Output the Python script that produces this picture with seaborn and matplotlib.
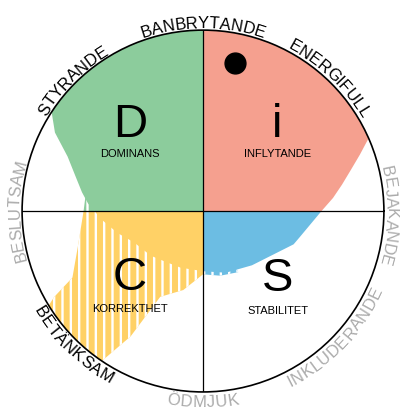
#!/usr/bin/env python3
"""DISC-profil: cirkeldiagram med fyra kvadranter (D, i, S, C)."""

import numpy as np
import matplotlib
matplotlib.use("Agg")
import matplotlib.pyplot as plt
import seaborn as sns
from matplotlib import font_manager
from matplotlib.ft2font import FT2Font

# Profil (heldragen) - vinkel i grader, räckvidd 0..1 (över 1 = utanför kanten)
profile_deg = [0, 6, 11, 16, 20, 24, 45, 70, 90, 110, 130, 147, 152, 158, 165, 171, 176, 180,
               184, 194, 204, 220, 235, 248, 270, 290, 312, 340, 345, 360]
profile_r = [0.65, 0.72, 0.78, 0.85, 0.92, 1.0, 1.15, 1.15, 1.15, 1.15, 1.15, 1.0, 0.93, 0.81,
             0.73, 0.68, 0.64, 0.60, 0.57, 0.49, 0.42, 0.38, 0.345, 0.335, 0.33, 0.36, 0.40,
             0.53, 0.55, 0.65]

# Andra profilen (randig)
hatch_deg = [165, 172, 180, 196, 207, 210, 214, 225, 236, 240, 243.5, 256, 270, 285, 300]
hatch_r = [0.60, 0.655, 0.66, 0.72, 0.81, 0.95, 1.1, 1.15, 1.0, 0.8, 0.53, 0.45, 0.35, 0.37, 0.39]

# Kvadranter
quad_letters = ['i', 'D', 'C', 'S']
quad_names = ['INFLYTANDE', 'DOMINANS', 'KORREKTHET', 'STABILITET']
quad_ranges = [(0, 90), (90, 180), (180, 270), (270, 360)]
quad_colors = ['#f5a08f', '#8ccc9c', '#ffd166', '#6cbde3']

# Ord runt cirkeln
ring_words = ['BANBRYTANDE', 'ENERGIFULL', 'BEJAKANDE', 'INKLUDERANDE',
              'ÖDMJUK', 'BETÄNKSAM', 'BESLUTSAM', 'STYRANDE']
ring_angles = [90, 46.5, -1.5, -43.7, -90, -134, 180, 135]
ring_dark = [True, True, False, False, False, True, False, True]
ring_inward = [False, False, False, True, True, True, False, False]

# Markör
marker_deg = 77.8
marker_r = 0.837

FONT = 'Liberation Sans'
GRAY = '#ababab'
R_PX = 181.0

sns.set_theme(style='white')
plt.rcParams['font.family'] = [FONT, 'DejaVu Sans']
plt.rcParams['hatch.linewidth'] = 1.7


def pick(deg, r, a0, a1):
    deg = np.asarray(deg, dtype=float)
    r = np.asarray(r, dtype=float)
    m = (deg >= a0) & (deg <= a1)
    return np.deg2rad(deg[m]), r[m]


def char_widths(text, size_pt, dpi):
    path = font_manager.findfont(font_manager.FontProperties(family=FONT))
    font = FT2Font(path)
    font.set_size(size_pt, dpi)
    out = []
    for ch in text:
        g = font.load_char(ord(ch))
        out.append(g.linearHoriAdvance / 65536.0)
    return out


def ring_label(ax, text, center_deg, color, inward, size=12, dpi=100, spacing=1.02):
    widths = [w * spacing for w in char_widths(text, size, dpi)]
    total = sum(widths)
    if not inward:
        rb = 1.012
        rho = rb * R_PX + 6
        a = center_deg + np.rad2deg(total / 2 / rho)
        for ch, w in zip(text, widths):
            ac = a - np.rad2deg(w / 2 / rho)
            ax.text(np.deg2rad(ac), rb, ch, rotation=ac - 90, rotation_mode='anchor',
                    ha='center', va='baseline', fontsize=size, color=color, clip_on=False)
            a -= np.rad2deg(w / rho)
    else:
        rb = 1.085
        rho = rb * R_PX - 6
        a = center_deg - np.rad2deg(total / 2 / rho)
        for ch, w in zip(text, widths):
            ac = a + np.rad2deg(w / 2 / rho)
            ax.text(np.deg2rad(ac), rb, ch, rotation=ac + 90, rotation_mode='anchor',
                    ha='center', va='baseline', fontsize=size, color=color, clip_on=False)
            a += np.rad2deg(w / rho)


fig = plt.figure(figsize=(4.0, 4.07), dpi=100)
ax = fig.add_axes([0.055, 0.037, 0.905, 0.889], projection='polar')
ax.set_ylim(0, 1)
ax.set_xticks([])
ax.set_yticks([])
ax.grid(False)
ax.set_facecolor('white')
ax.spines['polar'].set_color('black')
ax.spines['polar'].set_linewidth(1.2)

# Randig profil under
hatch_parts = {1: (165, 180), 2: (180, 270), 3: (270, 300)}
for qi, (a0, a1) in hatch_parts.items():
    th, rr = pick(hatch_deg, hatch_r, a0, a1)
    ax.fill_between(th, 0, rr, facecolor=quad_colors[qi], edgecolor='white',
                    hatch='||', linewidth=0, zorder=1)

# Heldragen profil
for (a0, a1), col in zip(quad_ranges, quad_colors):
    th, rr = pick(profile_deg, profile_r, a0, a1)
    ax.fill_between(th, 0, rr, color=col, linewidth=0, zorder=2)

# Kors
for t in [0, 90, 180, 270]:
    ax.plot([np.deg2rad(t)] * 2, [0, 1], color='black', lw=0.9, zorder=3)

ax.scatter([np.deg2rad(marker_deg)], [marker_r], s=225, color='black', zorder=4)

# Bokstäver i kvadranterna (axelkoordinater)
letter_pos = {'i': (0.705, 0.7375), 'D': (0.298, 0.7375), 'C': (0.298, 0.315), 'S': (0.707, 0.312)}
name_dy = {'i': -0.08, 'D': -0.08, 'C': -0.085, 'S': -0.088}
for letter, name in zip(quad_letters, quad_names):
    x, y = letter_pos[letter]
    ax.text(x, y, letter, transform=ax.transAxes, ha='center', va='center',
            fontsize=34, color='black', zorder=5)
    ax.text(x, y + name_dy[letter], name, transform=ax.transAxes, ha='center',
            va='center', fontsize=8, color='black', zorder=5)

for word, ang, dark, inward in zip(ring_words, ring_angles, ring_dark, ring_inward):
    ring_label(ax, word, ang, 'black' if dark else GRAY, inward)

fig.savefig('out.png', dpi=100)
